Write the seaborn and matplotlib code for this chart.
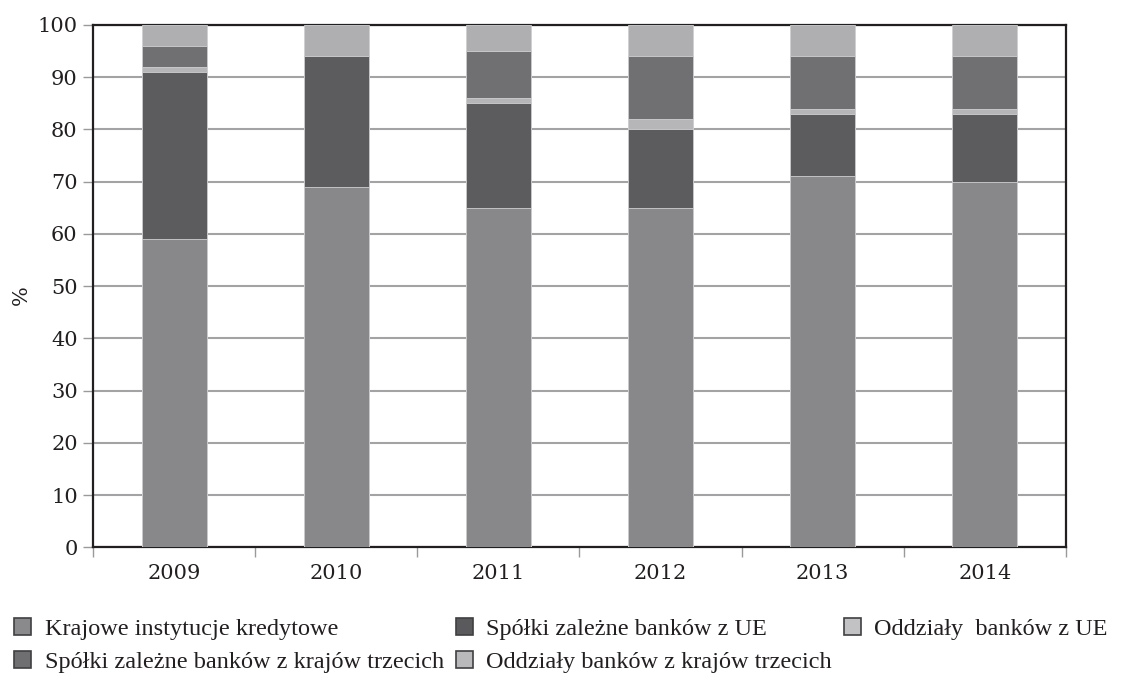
import matplotlib
matplotlib.use("Agg")
import matplotlib.pyplot as plt
from matplotlib.patches import Patch
from matplotlib.ticker import FixedLocator
import numpy as np
import pandas as pd
import seaborn as sns

# Udział poszczególnych grup banków (%)
years = ["2009", "2010", "2011", "2012", "2013", "2014"]
krajowe = [59, 69, 65, 65, 71, 70]
spolki_ue = [32, 25, 20, 15, 12, 13]
oddzialy_ue = [1, 0, 1, 2, 1, 1]
spolki_trzecie = [4, 0, 9, 12, 10, 10]
oddzialy_trzecie = [4, 6, 5, 6, 6, 6]

series_names = [
    "Krajowe instytucje kredytowe",
    "Spółki zależne banków z UE",
    "Oddziały  banków z UE",
    "Spółki zależne banków z krajów trzecich",
    "Oddziały banków z krajów trzecich",
]
series_values = [krajowe, spolki_ue, oddzialy_ue, spolki_trzecie, oddzialy_trzecie]
bar_colors = ["#88888b", "#5c5c5f", "#b6b6b8", "#707073", "#afafb1"]
legend_colors = ["#8a8a8c", "#5a5a5c", "#c2c2c4", "#6f6f71", "#b9b9bb"]

sns.set_theme(style="white")
plt.rcParams["font.family"] = ["DejaVu Serif"]
text_color = "#231f20"

fig = plt.figure(figsize=(11.34, 6.75), dpi=100)
ax = fig.add_axes([0.082, 0.189, 0.858, 0.774])

# Stacked bars: draw cumulative totals from the top segment down
cum = np.cumsum(np.array(series_values), axis=0)
for i in range(len(series_names) - 1, -1, -1):
    df = pd.DataFrame({"rok": years, "wartosc": cum[i]})
    sns.barplot(data=df, x="rok", y="wartosc", color=bar_colors[i],
                saturation=1, width=0.4, linewidth=0.6, edgecolor="#d0d0d2",
                ax=ax, zorder=3)

ax.set_ylim(0, 100)
ax.set_xlim(-0.5, 5.5)
ax.set_yticks(np.arange(0, 101, 10))
ax.yaxis.grid(True, color="#a3a3a5", linewidth=1.5, zorder=0)
ax.set_axisbelow(True)
ax.set_xlabel("")
ax.set_ylabel("")
fig.text(21 / 1134, 1 - 295 / 675, "%", rotation=90, ha="center", va="center",
         fontsize=15, color=text_color)

for side in ["left", "right", "top", "bottom"]:
    ax.spines[side].set_visible(True)
    ax.spines[side].set_color(text_color)
    ax.spines[side].set_linewidth(1.6)

ax.tick_params(axis="y", which="major", direction="out", length=7, width=1,
               color="#9a9a9a", labelsize=15, pad=4, left=True)
ax.tick_params(axis="x", which="major", length=0, labelsize=15, pad=12)
ax.xaxis.set_minor_locator(FixedLocator(np.arange(-0.5, 6.0, 1.0)))
ax.tick_params(axis="x", which="minor", direction="out", length=7, width=1,
               color="#9a9a9a", bottom=True)
for lbl in ax.get_xticklabels() + ax.get_yticklabels():
    lbl.set_color(text_color)

# Legend in three columns, filled row by row
order = [0, 3, 1, 4, 2]
handles = [Patch(facecolor=legend_colors[k], edgecolor="#404042", linewidth=1.2,
                 label=series_names[k]) for k in order]
fig.legend(handles=handles, loc="upper left", bbox_to_anchor=(0.004, 0.099),
           ncol=3, frameon=False,
           prop={"family": "Liberation Serif", "size": 17.5},
           handlelength=0.7, handleheight=0.7, handletextpad=0.55,
           columnspacing=0.5, labelspacing=0.45, borderaxespad=0.0,
           labelcolor=text_color)

fig.savefig("out.png", dpi=100)
